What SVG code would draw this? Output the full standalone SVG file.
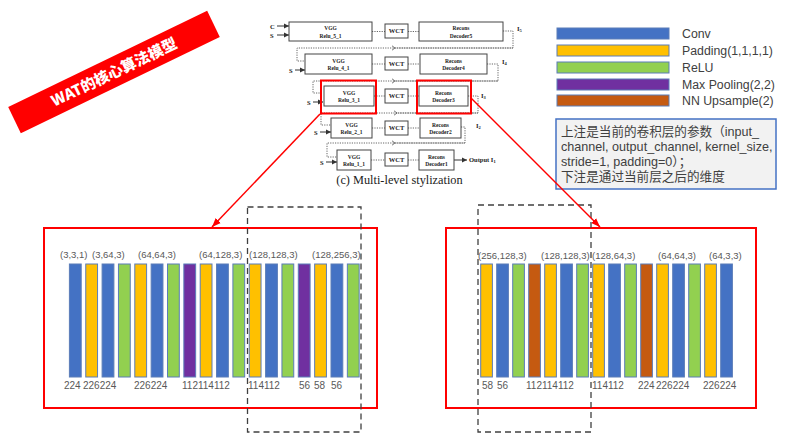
<svg xmlns="http://www.w3.org/2000/svg" width="794" height="446" viewBox="0 0 794 446">
<defs>
<style>
.bar{stroke:#5B7DB8;stroke-width:1}
.cv{fill:#4472C4}.pd{fill:#FFC000}.rl{fill:#92D050}.mp{fill:#7030A0}.up{fill:#C55A11}
.lab{font-family:"Liberation Sans",Arial,sans-serif;font-size:9.5px;fill:#595959}
.num{font-family:"Liberation Sans",Arial,sans-serif;font-size:10px;fill:#595959}
.leg{font-family:"Liberation Sans",Arial,sans-serif;font-size:12.3px;fill:#404040}
.note{font-family:"Liberation Sans","Noto Sans CJK SC",sans-serif;font-size:12.6px;fill:#404040}
.nb{fill:#fff;stroke:#444;stroke-width:1}
.nt{font-family:"Liberation Serif","Times New Roman",serif;font-size:5.5px;font-weight:bold;fill:#222;text-anchor:middle}
.wt{font-family:"Liberation Serif","Times New Roman",serif;font-size:6.5px;font-weight:bold;fill:#222;text-anchor:middle}
.sm{font-family:"Liberation Serif","Times New Roman",serif;font-size:6.5px;font-weight:bold;fill:#222}
.dot{fill:none;stroke:#666;stroke-width:1;stroke-dasharray:1.2,1.2}
.sol{fill:none;stroke:#333;stroke-width:1}
.red{fill:none;stroke:#FF0000;stroke-width:2}
.dash{fill:none;stroke:#404040;stroke-width:1.3;stroke-dasharray:6,4}
</style>
<marker id="ah" markerWidth="6" markerHeight="6" refX="5" refY="3" orient="auto" markerUnits="userSpaceOnUse"><path d="M0,0.5 L5,3 L0,5.5 z" fill="#333"/></marker>
<marker id="lt" markerWidth="6" markerHeight="6" refX="1" refY="3" orient="auto" markerUnits="userSpaceOnUse"><path d="M4,0.8 L1,3 L4,5.2" fill="none" stroke="#555" stroke-width="0.8"/></marker>
<marker id="ra" markerWidth="10" markerHeight="10" refX="9" refY="5" orient="auto" markerUnits="userSpaceOnUse"><path d="M0,1.5 L9,5 L0,8.5 z" fill="#FF0000"/></marker>
</defs>
<rect width="794" height="446" fill="#fff"/>

<g id="banner" transform="translate(114,72) rotate(-25.8)">
<rect x="-110.5" y="-14.5" width="221" height="29" fill="#FF0000"/>
<text x="0" y="5.5" text-anchor="middle" font-family="'Noto Sans CJK SC','Noto Sans CJK JP',sans-serif" font-weight="900" font-size="15" fill="#fff">WAT的核心算法模型</text>
</g>

<g id="multilevel">
<g id="connectors">
<path class="dot" d="M372,31.5 H385 M408,31.5 H419"/>
<path class="dot" d="M503,31 H513 V48 H297 V61 H305"/>
<path class="dot" d="M513,48 H395" marker-end="url(#lt)"/>
<path class="dot" d="M372,64 H385 M408,64 H420"/>
<path class="dot" d="M487,64 H498 V81 H313 V93 H323"/>
<path class="dot" d="M498,81 H395" marker-end="url(#lt)"/>
<path class="dot" d="M374,96 H385 M408,96 H419"/>
<path class="dot" d="M468,96 H478 V113 H321 V125 H331"/>
<path class="dot" d="M478,113 H397" marker-end="url(#lt)"/>
<path class="dot" d="M372,128 H385 M408,128 H420"/>
<path class="dot" d="M461,127 H465 V143 H327 V157 H337"/>
<path class="dot" d="M465,143 H395" marker-end="url(#lt)"/>
<path class="dot" d="M371,160 H385 M408,160 H419"/>
<path class="sol" d="M277,26 H289" marker-end="url(#ah)"/>
<path class="sol" d="M277,35 H289" marker-end="url(#ah)"/>
<path class="sol" d="M295,70 H305" marker-end="url(#ah)"/>
<path class="sol" d="M313,102 H323" marker-end="url(#ah)"/>
<path class="sol" d="M320,132 H331" marker-end="url(#ah)"/>
<path class="sol" d="M326,162 H337" marker-end="url(#ah)"/>
<path class="sol" d="M454,160 H467" marker-end="url(#ah)"/>
</g>
<text class="sm" x="270" y="28.5">C</text>
<text class="sm" x="270" y="37.5">S</text>
<text class="sm" x="289" y="72.5">S</text>
<text class="sm" x="307" y="104.5">S</text>
<text class="sm" x="314" y="134.5">S</text>
<text class="sm" x="320" y="164.5">S</text>
<g id="vgg5"><rect class="nb" x="289" y="22" width="83" height="19"/><text class="nt" x="330.5" y="30">VGG</text><text class="nt" x="330.5" y="37.5">Relu_5_1</text></g>
<g id="wct5"><rect class="nb" x="385" y="24" width="23" height="14"/><text class="wt" x="396.5" y="33.3">WCT</text></g>
<g id="dec5"><rect class="nb" x="419" y="22" width="84" height="19"/><text class="nt" x="461" y="30">Recons</text><text class="nt" x="461" y="37.5">Decoder5</text></g>
<text class="sm" x="517" y="31">I<tspan font-size="4.5" dy="1">5</tspan></text>
<g id="vgg4"><rect class="nb" x="305" y="54" width="67" height="20"/><text class="nt" x="338.5" y="62.5">VGG</text><text class="nt" x="338.5" y="70">Relu_4_1</text></g>
<g id="wct4"><rect class="nb" x="385" y="57" width="23" height="13"/><text class="wt" x="396.5" y="65.8">WCT</text></g>
<g id="dec4"><rect class="nb" x="420" y="54" width="67" height="20"/><text class="nt" x="453.5" y="62.5">Recons</text><text class="nt" x="453.5" y="70">Decoder4</text></g>
<text class="sm" x="502" y="64">I<tspan font-size="4.5" dy="1">4</tspan></text>
<g id="vgg3"><rect class="nb" x="324" y="86" width="50" height="20"/><text class="nt" x="349" y="94.5">VGG</text><text class="nt" x="349" y="102">Relu_3_1</text></g>
<g id="wct3"><rect class="nb" x="385" y="89" width="23" height="14"/><text class="wt" x="396.5" y="98.3">WCT</text></g>
<g id="dec3"><rect class="nb" x="419" y="86" width="49" height="20"/><text class="nt" x="443.5" y="94.5">Recons</text><text class="nt" x="443.5" y="102">Decoder3</text></g>
<text class="sm" x="481" y="98">I<tspan font-size="4.5" dy="1">3</tspan></text>
<g id="vgg2"><rect class="nb" x="331" y="118" width="41" height="20"/><text class="nt" x="351.5" y="126.5">VGG</text><text class="nt" x="351.5" y="134">Relu_2_1</text></g>
<g id="wct2"><rect class="nb" x="385" y="121" width="23" height="14"/><text class="wt" x="396.5" y="130.3">WCT</text></g>
<g id="dec2"><rect class="nb" x="420" y="118" width="41" height="20"/><text class="nt" x="440.5" y="126.5">Recons</text><text class="nt" x="440.5" y="134">Decoder2</text></g>
<text class="sm" x="476" y="128">I<tspan font-size="4.5" dy="1">2</tspan></text>
<g id="vgg1"><rect class="nb" x="337" y="150" width="34" height="20"/><text class="nt" x="354" y="158.5">VGG</text><text class="nt" x="354" y="166">Relu_1_1</text></g>
<g id="wct1"><rect class="nb" x="385" y="153" width="23" height="13"/><text class="wt" x="396.5" y="161.8">WCT</text></g>
<g id="dec1"><rect class="nb" x="419" y="150" width="35" height="20"/><text class="nt" x="436.5" y="158.5">Recons</text><text class="nt" x="436.5" y="166">Decoder1</text></g>
<text class="sm" x="469" y="162.3">Output  I<tspan font-size="4.5" dy="1">1</tspan></text>
<text x="399.5" y="184" text-anchor="middle" font-family="'Liberation Serif','Times New Roman',serif" font-size="12.3" fill="#222">(c) Multi-level stylization</text>
<rect class="red" x="321" y="80.5" width="55" height="33"/>
<rect class="red" x="417" y="80.5" width="54" height="33"/>
</g>

<g id="legend">
<rect class="bar cv" x="557" y="28" width="112" height="11"/>
<rect class="bar pd" x="557" y="45" width="112" height="11"/>
<rect class="bar rl" x="557" y="62" width="112" height="11"/>
<rect class="bar mp" x="557" y="79" width="112" height="11"/>
<rect class="bar up" x="557" y="95" width="112" height="11"/>
<text class="leg" x="682" y="38">Conv</text>
<text class="leg" x="682" y="55">Padding(1,1,1,1)</text>
<text class="leg" x="682" y="72">ReLU</text>
<text class="leg" x="682" y="89">Max Pooling(2,2)</text>
<text class="leg" x="682" y="105">NN Upsample(2)</text>
</g>

<g id="note">
<rect x="556" y="119" width="220" height="70" fill="#F2F2F2" stroke="#4472C4" stroke-width="1.5"/>
<text class="note" x="561" y="136">上注是当前的卷积层的参数（input_</text>
<text class="note" x="561" y="151">channel, output_channel, kernel_size,</text>
<text class="note" x="561" y="166">stride=1, padding=0）；</text>
<text class="note" x="561" y="181">下注是通过当前层之后的维度</text>
</g>

<g id="encoder">
<rect x="44" y="228" width="333" height="180" fill="none" stroke="#FF0000" stroke-width="2"/>
<g transform="translate(69.4,264)">
<rect class="bar cv" x="0" width="11.8" height="113"/>
<rect class="bar pd" x="16.35" width="11.8" height="113"/>
<rect class="bar cv" x="32.7" width="11.8" height="113"/>
<rect class="bar rl" x="49.05" width="11.8" height="113"/>
<rect class="bar pd" x="65.4" width="11.8" height="113"/>
<rect class="bar cv" x="81.75" width="11.8" height="113"/>
<rect class="bar rl" x="98.1" width="11.8" height="113"/>
<rect class="bar mp" x="114.45" width="11.8" height="113"/>
<rect class="bar pd" x="130.8" width="11.8" height="113"/>
<rect class="bar cv" x="147.15" width="11.8" height="113"/>
<rect class="bar rl" x="163.5" width="11.8" height="113"/>
<rect class="bar pd" x="179.85" width="11.8" height="113"/>
<rect class="bar cv" x="196.2" width="11.8" height="113"/>
<rect class="bar rl" x="212.55" width="11.8" height="113"/>
<rect class="bar mp" x="228.9" width="11.8" height="113"/>
<rect class="bar pd" x="245.25" width="11.8" height="113"/>
<rect class="bar cv" x="261.6" width="11.8" height="113"/>
<rect class="bar rl" x="277.95" width="11.8" height="113"/>
</g>
<text class="lab" x="60" y="258">(3,3,1)</text>
<text class="lab" x="92" y="258">(3,64,3)</text>
<text class="lab" x="138" y="258">(64,64,3)</text>
<text class="lab" x="199" y="258">(64,128,3)</text>
<text class="lab" x="249" y="258">(128,128,3)</text>
<text class="lab" x="312" y="258">(128,256,3)</text>
<text class="num" x="64" y="389">224</text>
<text class="num" x="83" y="389">226224</text>
<text class="num" x="134" y="389">226224</text>
<text class="num" x="182" y="389">112114112</text>
<text class="num" x="248" y="389">114112</text>
<text class="num" x="299" y="389">56</text>
<text class="num" x="314" y="389">58</text>
<text class="num" x="331" y="389">56</text>
<rect class="dash" x="247.5" y="207" width="113.5" height="225"/>
</g>

<g id="decoder">
<rect x="446" y="228" width="310" height="180" fill="none" stroke="#FF0000" stroke-width="2"/>
<g transform="translate(480.7,264)">
<rect class="bar pd" x="0" width="11.7" height="113"/>
<rect class="bar cv" x="16" width="11.7" height="113"/>
<rect class="bar rl" x="32" width="11.7" height="113"/>
<rect class="bar up" x="48" width="11.7" height="113"/>
<rect class="bar pd" x="64" width="11.7" height="113"/>
<rect class="bar cv" x="80" width="11.7" height="113"/>
<rect class="bar rl" x="96" width="11.7" height="113"/>
<rect class="bar pd" x="112" width="11.7" height="113"/>
<rect class="bar cv" x="128" width="11.7" height="113"/>
<rect class="bar rl" x="144" width="11.7" height="113"/>
<rect class="bar up" x="160" width="11.7" height="113"/>
<rect class="bar pd" x="176" width="11.7" height="113"/>
<rect class="bar cv" x="192" width="11.7" height="113"/>
<rect class="bar rl" x="208" width="11.7" height="113"/>
<rect class="bar pd" x="224" width="11.7" height="113"/>
<rect class="bar cv" x="240" width="11.7" height="113"/>
</g>
<text class="lab" x="478" y="259">(256,128,3)</text>
<text class="lab" x="541" y="259">(128,128,3)</text>
<text class="lab" x="592" y="259">(128,64,3)</text>
<text class="lab" x="658" y="259">(64,64,3)</text>
<text class="lab" x="709" y="259">(64,3,3)</text>
<text class="num" x="482" y="389">58</text>
<text class="num" x="497" y="389">56</text>
<text class="num" x="526" y="389">112114112</text>
<text class="num" x="592" y="389">114112</text>
<text class="num" x="638" y="389">224</text>
<text class="num" x="656" y="389">226224</text>
<text class="num" x="703" y="389">226224</text>
<rect class="dash" x="478" y="205" width="113" height="227"/>
</g>

<g id="zoom-links">
<line x1="320" y1="114" x2="212" y2="227" stroke="#FF0000" stroke-width="1.5" marker-end="url(#ra)"/>
<line x1="471" y1="98" x2="600" y2="227" stroke="#FF0000" stroke-width="1.5" marker-end="url(#ra)"/>
</g>
</svg>
